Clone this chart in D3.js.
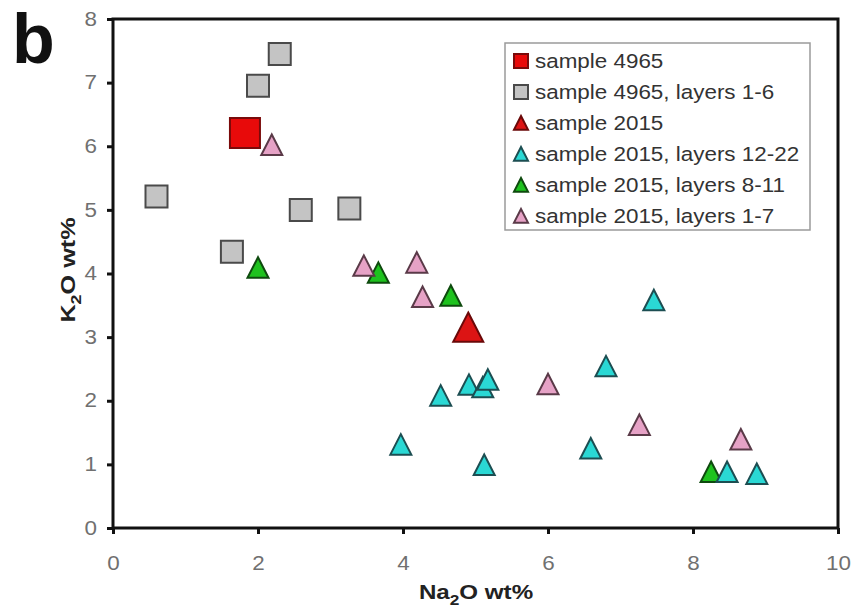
<!DOCTYPE html>
<html>
<head>
<meta charset="utf-8">
<script src="https://cdn.jsdelivr.net/npm/d3@7"></script>
<style>
  html, body { margin: 0; padding: 0; background: #fff; }
  svg { display: block; }
  text { font-family: "Liberation Sans", Arial, sans-serif; }
</style>
</head>
<body>
<svg id="chart" width="856" height="613"></svg>
<script>
// Na2O vs K2O (wt%) for two samples and their layers
const xTicks = [0, 2, 4, 6, 8, 10];
const yTicks = [0, 1, 2, 3, 4, 5, 6, 7, 8];

const seriesNames = [
  "sample 4965",
  "sample 4965, layers 1-6",
  "sample 2015",
  "sample 2015, layers 12-22",
  "sample 2015, layers 8-11",
  "sample 2015, layers 1-7"
];

// [Na2O, K2O]
const sample4965 = [[1.82, 6.21]];
const sample4965Layers = [[2.30, 7.45], [2.00, 6.95], [0.60, 5.21], [1.64, 4.34], [2.59, 5.00], [3.26, 5.02]];
const sample2015 = [[4.90, 3.15]];
const sample2015Layers12to22 = [[7.46, 3.58], [6.80, 2.54], [4.91, 2.25], [5.10, 2.21], [5.17, 2.33], [4.52, 2.08],
                                [3.97, 1.31], [5.12, 0.99], [6.59, 1.25], [8.47, 0.88], [8.88, 0.85]];
const sample2015Layers8to11 = [[2.00, 4.09], [3.66, 4.01], [4.66, 3.65], [8.25, 0.88]];
const sample2015Layers1to7 = [[2.19, 6.02], [3.46, 4.12], [4.19, 4.17], [4.27, 3.63], [6.00, 2.26], [7.26, 1.62], [8.66, 1.39]];

const svg = d3.select("#chart");
const plotLeft = 113, plotRight = 838, plotTop = 19, plotBottom = 528;
const stretch = 1.15;  // wide glyphs

const x = d3.scaleLinear().domain([0, 10]).range([plotLeft, plotRight]);
const y = d3.scaleLinear().domain([0, 8]).range([plotBottom, plotTop]);

// marker styles per series
const styles = [
  { shape: "square", size: 30, fill: "#e80a0a", stroke: "#7a0a0a" },
  { shape: "square", size: 22, fill: "#c4c4c4", stroke: "#4a4a4a" },
  { shape: "triangle", size: 30, fill: "#dc1414", stroke: "#6a0808" },
  { shape: "triangle", size: 21, fill: "#2ad8d4", stroke: "#1c4e52" },
  { shape: "triangle", size: 21, fill: "#1ec21e", stroke: "#0e4a0e" },
  { shape: "triangle", size: 21, fill: "#e6a2c6", stroke: "#5a3a48" }
];
const seriesData = [sample4965, sample4965Layers, sample2015, sample2015Layers12to22, sample2015Layers8to11, sample2015Layers1to7];

function shapePath(shape, s) {
  const h = s / 2;
  if (shape === "square") return `M${-h},${-h}H${h}V${h}H${-h}Z`;
  return `M0,${-h}L${h},${h * 0.95}L${-h},${h * 0.95}Z`;
}

// frame
svg.append("rect")
  .attr("x", plotLeft).attr("y", plotTop)
  .attr("width", plotRight - plotLeft).attr("height", plotBottom - plotTop)
  .attr("fill", "none").attr("stroke", "#111").attr("stroke-width", 3);

// axes
const xAxis = svg.append("g")
  .attr("transform", `translate(0,${plotBottom})`)
  .call(d3.axisBottom(x).tickValues(xTicks).tickSize(6).tickPadding(22).tickFormat(d3.format("d")));
const yAxis = svg.append("g")
  .attr("transform", `translate(${plotLeft},0)`)
  .call(d3.axisLeft(y).tickValues(yTicks).tickSize(6).tickPadding(8).tickFormat(d3.format("d")));

[xAxis, yAxis].forEach(g => {
  g.select(".domain").remove();
  g.selectAll(".tick line").attr("stroke", "#111").attr("stroke-width", 3);
  g.selectAll(".tick text")
    .attr("fill", "#707070")
    .style("font-size", "19.5px")
    .attr("transform", `scale(${stretch},1)`);
});

// points, drawn in stacking order
const drawOrder = [1, 0, 4, 3, 5, 2];
drawOrder.forEach(i => {
  const st = styles[i];
  svg.append("g").selectAll("path")
    .data(seriesData[i])
    .join("path")
    .attr("transform", d => `translate(${x(d[0])},${y(d[1])})`)
    .attr("d", shapePath(st.shape, st.size))
    .attr("fill", st.fill)
    .attr("stroke", st.stroke)
    .attr("stroke-width", 2);
});

// legend
const legend = svg.append("g");
legend.append("rect")
  .attr("x", 505).attr("y", 43).attr("width", 305).attr("height", 187)
  .attr("fill", "#fff").attr("stroke", "#9a9a9a").attr("stroke-width", 1.5);
seriesNames.forEach((name, i) => {
  const cy = 61 + i * 31;
  const st = styles[i];
  legend.append("path")
    .attr("transform", `translate(521,${cy})`)
    .attr("d", shapePath(st.shape, 14))
    .attr("fill", st.fill)
    .attr("stroke", st.stroke)
    .attr("stroke-width", 2);
  legend.append("text")
    .attr("transform", `translate(535,${cy + 7}) scale(${stretch},1)`)
    .attr("fill", "#333")
    .style("font-size", "19.5px")
    .text(name);
});

// axis titles
const xt = svg.append("text")
  .attr("transform", `translate(476,599) scale(${stretch},1)`)
  .attr("text-anchor", "middle")
  .attr("fill", "#222")
  .style("font-size", "21px").style("font-weight", "bold");
xt.append("tspan").text("Na");
xt.append("tspan").attr("dy", 6).style("font-size", "15px").text("2");
xt.append("tspan").attr("dy", -6).text("O wt%");

const yt = svg.append("text")
  .attr("transform", `translate(75,270) rotate(-90) scale(1.2,1)`)
  .attr("text-anchor", "middle")
  .attr("fill", "#222")
  .style("font-size", "21px").style("font-weight", "bold");
yt.append("tspan").text("K");
yt.append("tspan").attr("dy", 6).style("font-size", "15px").text("2");
yt.append("tspan").attr("dy", -6).text("O wt%");

// panel letter
svg.append("text")
  .attr("x", 12).attr("y", 63)
  .attr("fill", "#111")
  .style("font-size", "70px").style("font-weight", "bold")
  .text("b");
</script>
</body>
</html>
